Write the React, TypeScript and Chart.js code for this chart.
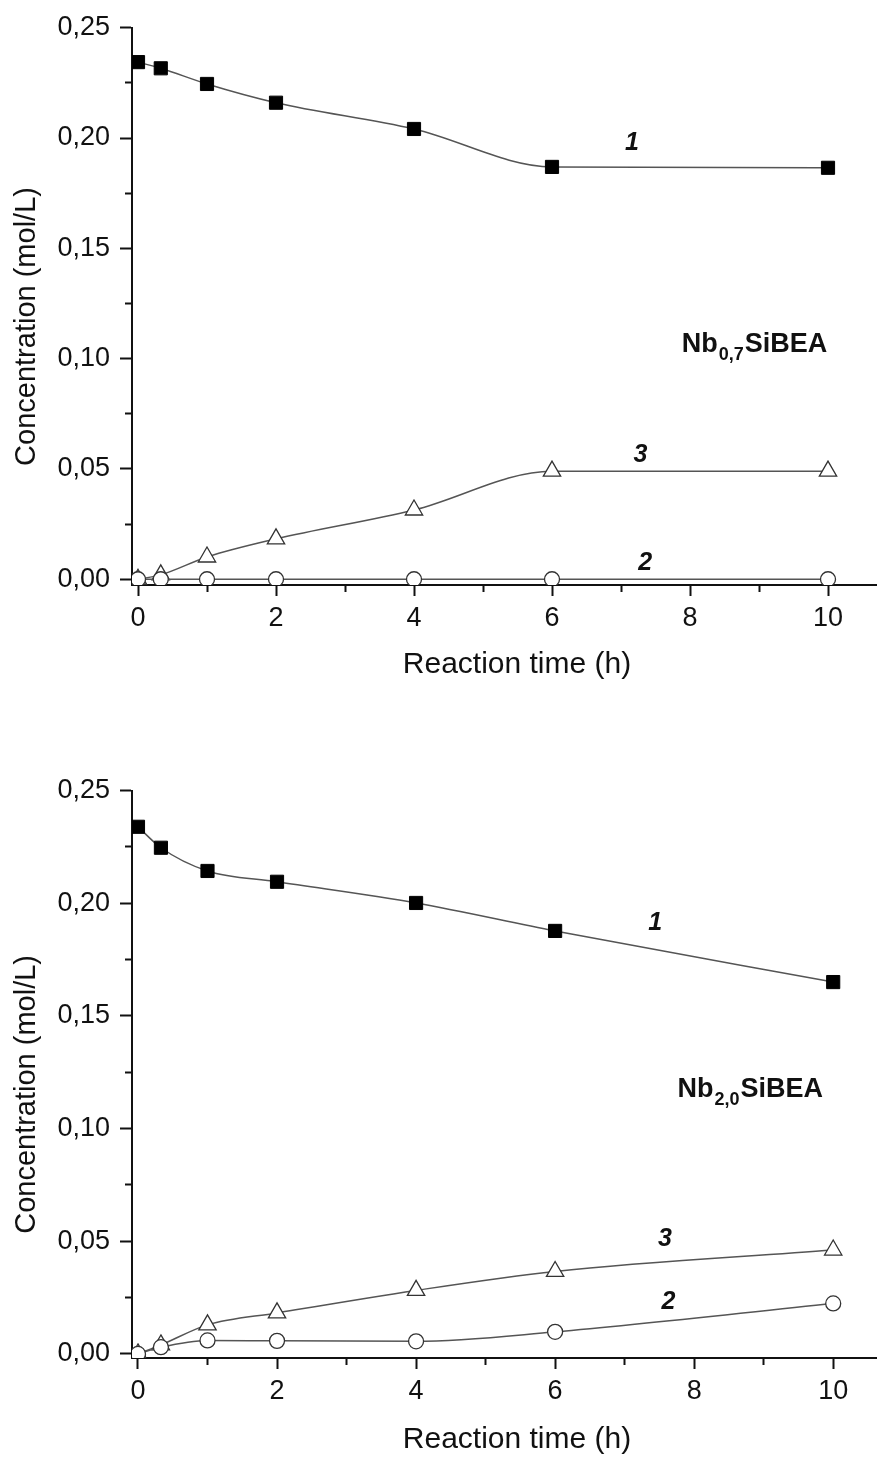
import React, { useEffect, useRef } from 'react';
import { Chart, registerables } from 'chart.js';

Chart.register(...registerables);

// ---------- data ----------
const times = [0, 0.33, 1, 2, 4, 6, 10];

// Nb0,7SiBEA
const nb07Curve1 = [0.2344, 0.2316, 0.2245, 0.216, 0.2041, 0.1869, 0.1865];
const nb07Curve2 = [0, 0, 0, 0, 0, 0, 0];
const nb07Curve3 = [0, 0.002, 0.0101, 0.0183, 0.0314, 0.049, 0.049];

// Nb2,0SiBEA
const nb20Curve1 = [0.2339, 0.2246, 0.2143, 0.2095, 0.2001, 0.1877, 0.165];
const nb20Curve2 = [0, 0.003, 0.006, 0.0058, 0.0056, 0.0098, 0.0224];
const nb20Curve3 = [0, 0.004, 0.0129, 0.0182, 0.0282, 0.0366, 0.0461];

const xMajorTicks = [0, 2, 4, 6, 8, 10];
const xMinorTicks = [1, 3, 5, 7, 9];
const yMajorTicks = [0, 0.05, 0.1, 0.15, 0.2, 0.25];
const yMinorTicks = [0.025, 0.075, 0.125, 0.175, 0.225];

const curveNames = ['1', '2', '3'];
const nb07LabelX = [7.16, 7.35, 7.28];
const nb07LabelY = [0.1978, 0.0074, 0.0564];
const nb20LabelX = [7.44, 7.63, 7.58];
const nb20LabelY = [0.191, 0.0231, 0.051];

const xTitle = '   Reaction time (h)';
const yTitle = 'Concentration (mol/L)     ';

const FAMILY = "'Liberation Sans', Arial, Helvetica, sans-serif";
const INK = '#111111';
const LINE = '#555555';

type PanelSpec = {
  c1: number[];
  c2: number[];
  c3: number[];
  labelX: number[];
  labelY: number[];
  namePre: string;
  nameSub: string;
  namePost: string;
  nameX: number;
  nameY: number;
  xMin: number;
  xMax: number;
  yMin: number;
  yMax: number;
  padTop: number;
  padBottom: number;
  xAxisH: number;
};

function makeTextPlugin(p: PanelSpec) {
  return {
    id: 'curveText',
    afterDatasetsDraw(chart: any) {
      const { ctx } = chart;
      const xs = chart.scales.x;
      const ys = chart.scales.y;
      ctx.save();
      ctx.fillStyle = INK;
      ctx.font = `italic bold 25px ${FAMILY}`;
      ctx.textAlign = 'center';
      ctx.textBaseline = 'middle';
      curveNames.forEach((t, i) => {
        ctx.fillText(t, xs.getPixelForValue(p.labelX[i]), ys.getPixelForValue(p.labelY[i]));
      });
      let px = xs.getPixelForValue(p.nameX);
      const py = ys.getPixelForValue(p.nameY);
      ctx.textAlign = 'left';
      ctx.textBaseline = 'alphabetic';
      ctx.font = `bold 27px ${FAMILY}`;
      ctx.fillText(p.namePre, px, py);
      px += ctx.measureText(p.namePre).width + 1;
      ctx.font = `bold 18px ${FAMILY}`;
      ctx.fillText(p.nameSub, px, py + 8);
      px += ctx.measureText(p.nameSub).width + 1;
      ctx.font = `bold 27px ${FAMILY}`;
      ctx.fillText(p.namePost, px, py);
      ctx.restore();
    },
  };
}

function makeConfig(p: PanelSpec): any {
  const pts = (arr: number[]) => times.map((t, i) => ({ x: t, y: arr[i] }));
  const tickFont = { family: FAMILY, size: 27 };
  const xTitleFont = { family: FAMILY, size: 30, lineHeight: 1.2 };
  const yTitleFont = { family: FAMILY, size: 29, lineHeight: 1.2 };
  const common = {
    borderColor: LINE,
    borderWidth: 1.5,
    cubicInterpolationMode: 'monotone',
    xAxisID: 'x',
    yAxisID: 'y',
  };
  return {
    type: 'line',
    data: {
      datasets: [
        {
          ...common,
          label: '1',
          data: pts(p.c1),
          pointStyle: 'rect',
          pointRadius: 9.3,
          pointBackgroundColor: '#000',
          pointBorderColor: '#000',
          pointBorderWidth: 1,
        },
        {
          ...common,
          label: '2',
          data: pts(p.c2),
          pointStyle: 'circle',
          pointRadius: 7.5,
          pointBackgroundColor: '#fff',
          pointBorderColor: '#333',
          pointBorderWidth: 1.3,
        },
        {
          ...common,
          label: '3',
          data: pts(p.c3),
          pointStyle: 'triangle',
          pointRadius: 10,
          pointBackgroundColor: '#fff',
          pointBorderColor: '#333',
          pointBorderWidth: 1.3,
        },
      ],
    },
    options: {
      animation: false,
      responsive: false,
      events: [],
      layout: { autoPadding: false, padding: { top: p.padTop, bottom: p.padBottom, left: 0, right: 0 } },
      plugins: { legend: { display: false }, tooltip: { enabled: false } },
      scales: {
        x: {
          type: 'linear',
          position: 'bottom',
          weight: 1,
          min: p.xMin,
          max: p.xMax,
          afterBuildTicks: (s: any) => {
            s.ticks = xMajorTicks.map((v) => ({ value: v }));
          },
          afterFit: (s: any) => {
            s.height = p.xAxisH;
          },
          ticks: {
            font: tickFont,
            color: INK,
            padding: 6,
            maxRotation: 0,
            autoSkip: false,
            callback: (v: number) => String(v),
          },
          grid: { drawOnChartArea: false, drawTicks: true, tickLength: 11, tickWidth: 2, tickColor: INK },
          border: { display: true, color: INK, width: 2 },
          title: { display: true, text: xTitle, font: xTitleFont, color: INK, padding: 0 },
        },
        x2: {
          type: 'linear',
          position: 'bottom',
          weight: 0,
          min: p.xMin,
          max: p.xMax,
          afterBuildTicks: (s: any) => {
            s.ticks = xMinorTicks.map((v) => ({ value: v }));
          },
          afterFit: (s: any) => {
            s.height = 0;
          },
          ticks: { display: false },
          grid: { drawOnChartArea: false, drawTicks: true, tickLength: 7, tickWidth: 2, tickColor: INK },
          border: { display: false },
        },
        y: {
          type: 'linear',
          position: 'left',
          weight: 1,
          min: p.yMin,
          max: p.yMax,
          afterBuildTicks: (s: any) => {
            s.ticks = yMajorTicks.map((v) => ({ value: v }));
          },
          afterFit: (s: any) => {
            s.width = 132;
          },
          ticks: {
            font: tickFont,
            color: INK,
            padding: 10,
            autoSkip: false,
            callback: (v: number) => v.toFixed(2).replace('.', ','),
          },
          grid: { drawOnChartArea: false, drawTicks: true, tickLength: 12, tickWidth: 2, tickColor: INK },
          border: { display: true, color: INK, width: 2 },
          title: { display: true, text: yTitle, font: yTitleFont, color: INK, padding: { top: 10, bottom: 0 } },
        },
        y2: {
          type: 'linear',
          position: 'left',
          weight: 0,
          min: p.yMin,
          max: p.yMax,
          afterBuildTicks: (s: any) => {
            s.ticks = yMinorTicks.map((v) => ({ value: v }));
          },
          afterFit: (s: any) => {
            s.width = 0;
          },
          ticks: { display: false },
          grid: { drawOnChartArea: false, drawTicks: true, tickLength: 7, tickWidth: 2, tickColor: INK },
          border: { display: false },
        },
      },
    },
    plugins: [makeTextPlugin(p)],
  };
}

const topPanel: PanelSpec = {
  c1: nb07Curve1,
  c2: nb07Curve2,
  c3: nb07Curve3,
  labelX: nb07LabelX,
  labelY: nb07LabelY,
  namePre: 'Nb',
  nameSub: '0,7',
  namePost: 'SiBEA',
  nameX: 7.88,
  nameY: 0.103,
  xMin: -0.087,
  xMax: 10.71,
  yMin: -0.0026,
  yMax: 0.25,
  padTop: 27.7,
  padBottom: 47,
  xAxisH: 98,
};

const bottomPanel: PanelSpec = {
  c1: nb20Curve1,
  c2: nb20Curve2,
  c3: nb20Curve3,
  labelX: nb20LabelX,
  labelY: nb20LabelY,
  namePre: 'Nb',
  nameSub: '2,0',
  namePost: 'SiBEA',
  nameX: 7.76,
  nameY: 0.114,
  xMin: -0.086,
  xMax: 10.63,
  yMin: -0.0018,
  yMax: 0.25,
  padTop: 60.5,
  padBottom: 3,
  xAxisH: 100,
};

function Panel({ spec, top, height }: { spec: PanelSpec; top: number; height: number }) {
  const ref = useRef<HTMLCanvasElement | null>(null);
  useEffect(() => {
    if (!ref.current) return;
    const chart = new Chart(ref.current, makeConfig(spec));
    return () => chart.destroy();
  }, [spec]);
  return (
    <canvas
      ref={ref}
      width={877}
      height={height}
      style={{ position: 'absolute', left: 0, top, width: 877, height }}
    />
  );
}

export default function App() {
  return (
    <div style={{ position: 'absolute', left: 0, top: 0, width: 877, height: 1461, background: '#fff', overflow: 'hidden' }}>
      <Panel spec={topPanel} top={0} height={730} />
      <Panel spec={bottomPanel} top={730} height={731} />
    </div>
  );
}
